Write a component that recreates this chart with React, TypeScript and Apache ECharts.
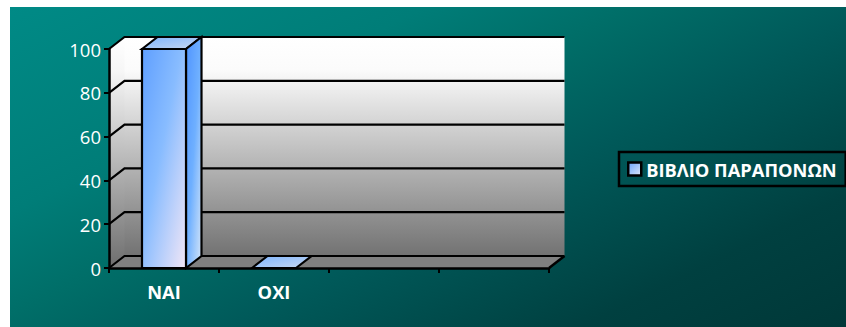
import React, { useEffect, useRef } from "react";
import * as echarts from "echarts";

const categories = ["ΝΑΙ", "ΟΧΙ", " ", "  "];
const seriesName = "ΒΙΒΛΙΟ ΠΑΡΑΠΟΝΩΝ";
const values: (number | null)[] = [100, 0, null, null];
const yTicks = [0, 20, 40, 60, 80, 100];

const DX = 15.5;
const DY = -12;
const BAR_W = 44;

const grad = (x: number, y: number, x2: number, y2: number, stops: [number, string][], global = false) =>
  new echarts.graphic.LinearGradient(x, y, x2, y2, stops.map(([offset, color]) => ({ offset, color })), global);

const poly = (points: number[][], style: any) => ({ type: "polygon", shape: { points }, style });

export default function App() {
  const ref = useRef<HTMLDivElement>(null);
  useEffect(() => {
    document.body.style.margin = "0";
    document.body.style.background = "#fff";
    const chart = echarts.init(ref.current!, null, { renderer: "svg" });
    chart.setOption({
      animation: false,
      textStyle: { fontFamily: "Open Sans" },
      graphic: [
        {
          type: "rect",
          z: -10,
          shape: { x: 10, y: 7, width: 836, height: 320 },
          style: {
            fill: grad(10, 7, 302, 597, [[0, "#008a86"], [0.28, "#007d78"], [0.42, "#006e68"], [0.58, "#005a5a"], [0.82, "#004040"], [1, "#003838"]], true),
          },
        },
      ],
      grid: { left: 109, right: 297, top: 49, bottom: 59, containLabel: false },
      legend: {
        left: 619,
        top: 152,
        data: [
          {
            name: seriesName,
            icon: "rect",
            itemStyle: {
              color: grad(0, 0, 1, 1, [[0, "#6aa6ff"], [1, "#dfe6f6"]]),
              borderColor: "#000",
              borderWidth: 2.5,
            },
          },
        ],
        itemWidth: 13,
        itemHeight: 13,
        itemGap: 0,
        padding: [8, 9, 8, 8],
        borderColor: "#000",
        borderWidth: 2.5,
        selectedMode: false,
        textStyle: { color: "#fff", fontWeight: "bold", fontSize: 18.3, fontFamily: "Open Sans" },
      },
      xAxis: {
        type: "category",
        data: categories,
        z: 5,
        axisLine: { lineStyle: { color: "#000", width: 2.5 } },
        axisTick: { show: true, length: 5, lineStyle: { color: "#000", width: 2 }, alignWithLabel: false },
        axisLabel: { color: "#fff", fontWeight: "bold", fontSize: 18.3, margin: 14, interval: 0 },
      },
      yAxis: {
        type: "value",
        min: 0,
        max: 100,
        interval: 20,
        z: 5,
        axisLine: { show: true, lineStyle: { color: "#000", width: 2.5 } },
        axisTick: { show: true, length: 5, lineStyle: { color: "#000", width: 2 } },
        axisLabel: { color: "#fff", fontSize: 18.5, margin: 8 },
        splitLine: { show: false },
      },
      series: [
        {
          // Back wall, side wall and floor of the 3D plot box; the back wall runs
          // one pixel under the side wall so no seam shows between them
          type: "custom",
          name: "walls",
          silent: true,
          z: 1,
          data: [[0]],
          renderItem: (params: any) => {
            const { x, y, width: w, height: h } = params.coordSys;
            return {
              type: "group",
              children: [
                poly([[x + DX - 1, y + DY], [x + w + DX, y + DY], [x + w + DX, y + h + DY], [x + DX - 1, y + h + DY]], {
                  fill: grad(0, 0, 0, 1, [[0, "#ffffff"], [0.15, "#fbfbfb"], [1, "#727272"]]),
                }),
                poly([[x, y], [x + DX, y + DY], [x + DX, y + h + DY], [x, y + h]], {
                  fill: grad(0, 0, 0, 1, [[0, "#ffffff"], [0.15, "#f6f6f6"], [1, "#6e6e6e"]]),
                }),
                poly([[x, y + h], [x + DX, y + h + DY], [x + w + DX, y + h + DY], [x + w, y + h]], {
                  fill: "#808080",
                }),
                {
                  type: "polyline",
                  shape: { points: [[x + w, y + h], [x + w + DX, y + h + DY]] },
                  style: { stroke: "#000", lineWidth: 2.5, fill: "none" },
                },
              ],
            };
          },
        },
        {
          // Gridlines bent around the side wall and along the back wall
          type: "custom",
          name: "gridlines",
          silent: true,
          z: 2,
          data: yTicks.map((v) => [0, v]),
          renderItem: (params: any, api: any) => {
            const { x, width: w } = params.coordSys;
            const py = api.coord([0, api.value(1)])[1];
            return {
              type: "polyline",
              shape: { points: [[x, py], [x + DX, py + DY], [x + w + DX, py + DY]] },
              style: { stroke: "#000", lineWidth: 2.2, fill: "none" },
            };
          },
        },
        {
          // Extruded columns: top, side and front faces
          type: "custom",
          name: seriesName,
          z: 3,
          data: values.map((v, i) => [i, v]),
          renderItem: (_params: any, api: any) => {
            const v = api.value(1);
            if (v === null || Number.isNaN(v)) return { type: "group", children: [] };
            const [cx, top] = api.coord([api.value(0), v]);
            const bottom = api.coord([api.value(0), 0])[1];
            const l = cx - BAR_W / 2;
            const r = cx + BAR_W / 2;
            const line = { stroke: "#000", lineWidth: 2.2, lineJoin: "miter" };
            const children: any[] = [
              poly([[l, top], [l + DX, top + DY], [r + DX, top + DY], [r, top]], {
                ...line,
                fill: grad(0, 0, 1, 1, [[0, "#7db5ff"], [1, "#c9d8ef"]]),
              }),
            ];
            if (bottom > top) {
              children.push(
                poly([[r, top], [r + DX, top + DY], [r + DX, bottom + DY], [r, bottom]], {
                  ...line,
                  fill: grad(0, 0, 1, 1, [[0, "#4f94ff"], [0.5, "#6fb0ff"], [1, "#d6e6f8"]]),
                }),
                poly([[l, top], [r, top], [r, bottom], [l, bottom]], {
                  ...line,
                  fill: grad(0, 0, 1, 1, [[0, "#5f9fff"], [0.45, "#88bcff"], [1, "#f2e6f6"]]),
                })
              );
            }
            return { type: "group", children };
          },
        },
      ],
    });
    return () => chart.dispose();
  }, []);
  return <div ref={ref} style={{ width: 846, height: 327 }} />;
}
